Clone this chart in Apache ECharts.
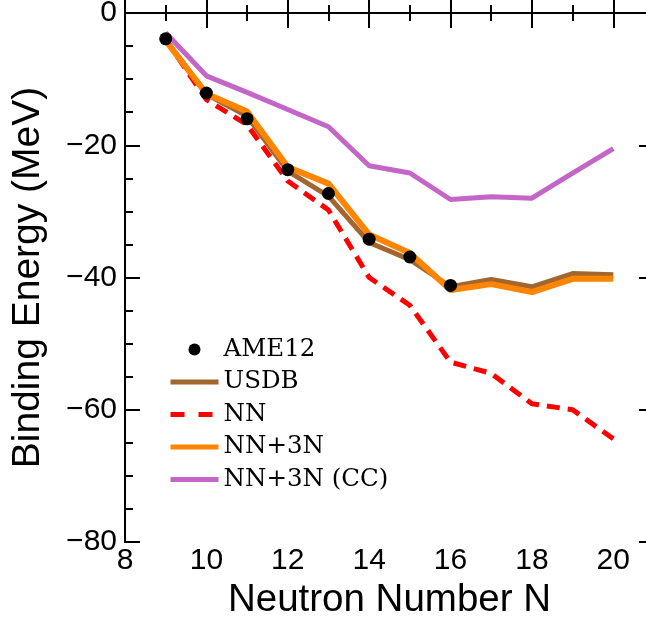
<!DOCTYPE html>
<html>
<head>
<meta charset="utf-8">
<script src="https://cdn.jsdelivr.net/npm/echarts@6/dist/echarts.min.js"></script>
<style>
  html, body { margin: 0; padding: 0; background: #fff; }
  #chart { width: 646px; height: 617px; }
</style>
</head>
<body>
<div id="chart"></div>
<script>
// Neutron numbers of the oxygen chain
const neutronsAME = [9, 10, 11, 12, 13, 14, 15, 16];
const neutronsCalc = [9, 10, 11, 12, 13, 14, 15, 16, 17, 18, 19, 20];

// Binding energies relative to 16O (MeV)
const ame12 = [-3.9, -12.1, -16.0, -23.7, -27.3, -34.2, -36.9, -41.2];
const usdb = [-4.0, -12.3, -15.6, -23.9, -27.7, -34.7, -37.3, -41.4, -40.3, -41.4, -39.4, -39.6];
const nnOnly = [-4.0, -13.1, -16.9, -25.4, -29.8, -40.0, -44.2, -52.8, -54.5, -59.1, -60.0, -64.4];
const nn3n = [-4.2, -12.2, -14.9, -23.3, -25.8, -33.5, -36.3, -41.9, -41.0, -42.2, -40.2, -40.2];
const nn3nCC = [-3.0, -9.5, -12.0, -14.6, -17.2, -23.1, -24.2, -28.2, -27.8, -28.0, -24.2, -20.5];

// Tick values
const xMajorInterval = 2;
const xMinorInterval = 1;
const yMajorInterval = 20;
const yMinorInterval = 5;

const seriesNames = ['AME12', 'USDB', 'NN', 'NN+3N', 'NN+3N (CC)'];
const colors = {
  usdb: '#a3662f',
  nn: '#ff0000',
  nn3n: '#ff8400',
  cc: '#c466c8',
  ame: '#000000'
};

const pairs = (xs, ys) => ys.map((y, i) => [xs[i], y]);
const minusFmt = v => (v < 0 ? '\u2212' + Math.abs(v) : String(v));

const axisLine = { show: true, lineStyle: { color: '#000', width: 2 } };
const tickStyle = { color: '#000', width: 2 };

function xAxisDef(position, interval, tickLen, withLabels) {
  return {
    type: 'value', min: 8, max: 21, interval: interval, position: position,
    axisLine: axisLine,
    axisTick: { show: true, inside: true, length: tickLen, lineStyle: tickStyle },
    axisLabel: withLabels ? {
      show: true, margin: 4, color: '#000', fontSize: 30, fontFamily: 'Liberation Sans',
      formatter: v => (v > 20 ? '' : String(v))
    } : { show: false },
    splitLine: { show: false },
    name: withLabels ? 'Neutron Number N' : '',
    nameLocation: 'middle', nameGap: 36,
    nameTextStyle: { color: '#000', fontSize: 38.5, fontFamily: 'Liberation Sans' }
  };
}

function yAxisDef(position, interval, tickLen, withLabels) {
  return {
    type: 'value', min: -80, max: 0, interval: interval, position: position,
    axisLine: axisLine,
    axisTick: { show: true, inside: true, length: tickLen, lineStyle: tickStyle },
    axisLabel: withLabels ? {
      show: true, margin: 8, color: '#000', fontSize: 30, fontFamily: 'Liberation Sans',
      formatter: minusFmt
    } : { show: false },
    splitLine: { show: false },
    name: withLabels ? 'Binding Energy (MeV)' : '',
    nameLocation: 'middle', nameGap: 77, nameRotate: 90,
    nameTextStyle: { color: '#000', fontSize: 39, fontFamily: 'Liberation Sans' }
  };
}

const lineSeries = (name, data, color, width, type, z) => ({
  name: name, type: 'line', data: data, xAxisIndex: 0, yAxisIndex: 0,
  symbol: 'none', z: z, silent: true, animation: false,
  lineStyle: { color: color, width: width, type: type, cap: 'butt', join: 'round' },
  itemStyle: { color: color }
});

const chart = echarts.init(document.getElementById('chart'), null, { renderer: 'canvas' });
chart.setOption({
  backgroundColor: '#fff',
  animation: false,
  grid: { left: 125, right: -8, top: 13, bottom: 75, containLabel: false, outerBoundsMode: 'none' },
  xAxis: [
    xAxisDef('bottom', xMajorInterval, 15, true),
    xAxisDef('bottom', xMinorInterval, 8, false),
    xAxisDef('top', xMajorInterval, 15, false),
    xAxisDef('top', xMinorInterval, 8, false)
  ],
  yAxis: [
    yAxisDef('left', yMajorInterval, 15, true),
    yAxisDef('left', yMinorInterval, 8, false),
    yAxisDef('right', yMajorInterval, 15, false),
    yAxisDef('right', yMinorInterval, 8, false)
  ],
  legend: {
    orient: 'vertical', left: 168, top: 337, padding: 0,
    itemWidth: 48, itemHeight: 12, itemGap: 7.5,
    selectedMode: false,
    textStyle: { color: '#000', fontSize: 24.5, fontFamily: 'DejaVu Serif' },
    data: [
      { name: seriesNames[0], icon: 'circle', itemStyle: { opacity: 1 } },
      { name: seriesNames[1], itemStyle: { opacity: 0 }, lineStyle: { width: 5 } },
      { name: seriesNames[2], itemStyle: { opacity: 0 }, lineStyle: { width: 5, type: [14, 14] } },
      { name: seriesNames[3], itemStyle: { opacity: 0 }, lineStyle: { width: 5 } },
      { name: seriesNames[4], itemStyle: { opacity: 0 }, lineStyle: { width: 5 } }
    ]
  },
  series: [
    lineSeries(seriesNames[1], pairs(neutronsCalc, usdb), colors.usdb, 5, 'solid', 2),
    lineSeries(seriesNames[2], pairs(neutronsCalc, nnOnly), colors.nn, 5, [13, 8], 3),
    lineSeries(seriesNames[3], pairs(neutronsCalc, nn3n), colors.nn3n, 6, 'solid', 4),
    lineSeries(seriesNames[4], pairs(neutronsCalc, nn3nCC), colors.cc, 5, 'solid', 5),
    {
      name: seriesNames[0], type: 'scatter', data: pairs(neutronsAME, ame12),
      xAxisIndex: 0, yAxisIndex: 0, symbol: 'circle', symbolSize: 13, z: 10,
      silent: true, itemStyle: { color: colors.ame, opacity: 1 }
    }
  ]
});
</script>
</body>
</html>
